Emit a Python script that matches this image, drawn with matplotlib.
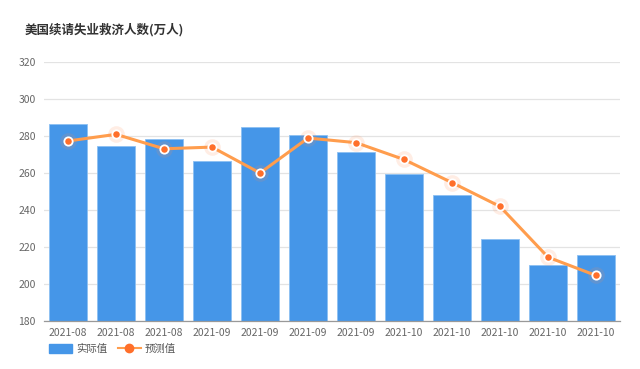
import matplotlib
matplotlib.use("Agg")
import matplotlib.pyplot as plt
import numpy as np
from matplotlib.lines import Line2D
from matplotlib.patches import Patch

plt.rcParams['font.family'] = ['Noto Sans CJK SC', 'DejaVu Sans']

categories = ["2021-08", "2021-08", "2021-08", "2021-09", "2021-09", "2021-09",
              "2021-09", "2021-10", "2021-10", "2021-10", "2021-10", "2021-10"]
actual = [286.4, 274.8, 278.4, 266.6, 284.6, 280.4, 271.5, 259.2, 248.0, 224.2, 210.4, 215.8]
forecast = [277.3, 280.9, 273.1, 274.0, 260.0, 278.9, 276.4, 267.3, 254.8, 241.9, 214.5, 204.6]
yticks = [180, 200, 220, 240, 260, 280, 300, 320]

fig = plt.figure(figsize=(6.4, 3.69), dpi=100)
ax = fig.add_axes([44/640, 1-321/369, 576/640, 259/369])
x = np.arange(len(categories))
ax.bar(x, actual, width=0.79, color='#4596e8', edgecolor='#8cc0f2', linewidth=0.6, zorder=2)
ax.plot(x, forecast, color='#ff9d4d', lw=2.2, zorder=4)
ax.plot(x, forecast, 'o', color='#ff8a50', markersize=12, alpha=0.15, markeredgewidth=0, zorder=4)
ax.plot(x, forecast, 'o', color='#ff6f2a', markersize=6, markeredgecolor='white', markeredgewidth=1.3, zorder=5)

ax.set_ylim(180, 320)
ax.set_xlim(-0.5, len(categories)-0.5)
ax.set_yticks(yticks)
ax.set_xticks(x)
ax.set_xticklabels(categories)
ax.tick_params(axis='both', length=0, labelsize=7.5, labelcolor='#666666')
ax.tick_params(axis='x', pad=5)
ax.tick_params(axis='y', pad=6)
ax.grid(axis='y', color='#e3e3e3', linewidth=0.9, zorder=0)
ax.set_axisbelow(True)
for s in ['left', 'right', 'top']:
    ax.spines[s].set_visible(False)
ax.spines['bottom'].set_color('#999999')
ax.spines['bottom'].set_linewidth(0.9)

fig.text(25/640, 1-30/369, "美国续请失业救济人数(万人)", fontsize=9, fontweight='bold',
         color='#333333', va='center', ha='left')

handles = [Patch(facecolor='#4596e8', edgecolor='#4596e8'),
           Line2D([0], [0], color='#ff9d4d', lw=1.5, marker='o', markersize=6,
                  markerfacecolor='#ff6f2a', markeredgecolor='#ff6f2a')]
fig.legend(handles, ["实际值", "预测值"], loc='center left', bbox_to_anchor=(40/640, 1-349/369),
           ncol=2, frameon=False, fontsize=7.5, handlelength=2.2, handleheight=1.0,
           columnspacing=1.0, handletextpad=0.4, labelcolor='#555555')

fig.savefig("out.png", dpi=100)
